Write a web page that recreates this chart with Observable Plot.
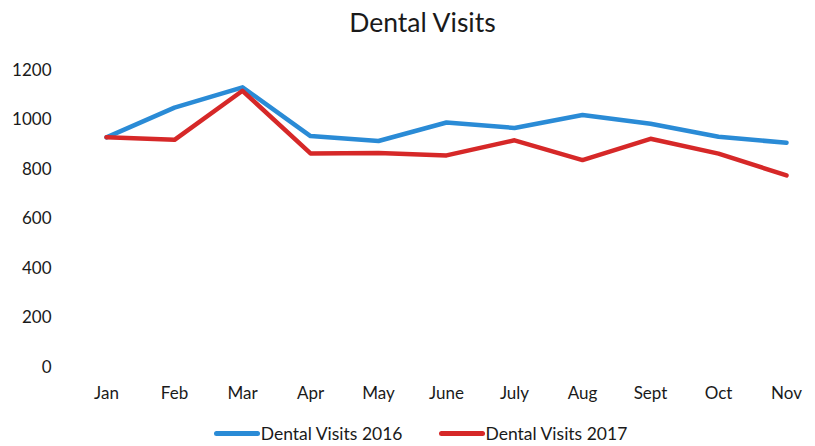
<!DOCTYPE html>
<html>
<head>
<meta charset="utf-8">
<script src="https://cdn.jsdelivr.net/npm/d3@7"></script>
<script src="https://cdn.jsdelivr.net/npm/@observablehq/plot@0.6"></script>
<style>
  body { margin: 0; background: #fff; font-family: Lato, "Open Sans", sans-serif; }
  #title { height: 45px; line-height: 44px; text-align: center; font-size: 26.5px; color: #1a1a1a; padding-left: 30px; }
  #legend { display: flex; justify-content: center; align-items: center; gap: 36px; font-size: 17.5px; color: #1a1a1a; margin-top: 8px; padding-left: 26px; }
  .item { display: flex; align-items: center; }
  .sw { width: 46px; height: 5px; border-radius: 3px; margin-right: 1px; }
</style>
</head>
<body>
<div id="title">Dental Visits</div>
<div id="chart"></div>
<div id="legend"></div>
<script>
const months = ["Jan", "Feb", "Mar", "Apr", "May", "June", "July", "Aug", "Sept", "Oct", "Nov"];
const visits2016 = [930, 1050, 1132, 935, 915, 990, 968, 1020, 985, 932, 908];
const visits2017 = [930, 920, 1118, 865, 867, 857, 918, 838, 924, 864, 776];
const seriesNames = ["Dental Visits 2016", "Dental Visits 2017"];
const seriesColors = ["#2a8bd6", "#d62828"];
const yTicks = [0, 200, 400, 600, 800, 1000, 1200];

const data = [];
months.forEach((m, i) => {
  data.push({ month: m, value: visits2016[i], series: seriesNames[0] });
  data.push({ month: m, value: visits2017[i], series: seriesNames[1] });
});

const plot = Plot.plot({
  width: 815,
  height: 370,
  marginTop: 25,
  marginBottom: 48,
  marginLeft: 104,
  marginRight: 28,
  style: { fontFamily: "Lato, 'Open Sans', sans-serif", fontSize: "17px", color: "#1a1a1a" },
  x: { type: "point", domain: months, padding: 0, label: null },
  y: { domain: [0, 1200], label: null },
  color: { domain: seriesNames, range: seriesColors },
  marks: [
    Plot.axisX({ tickSize: 0, tickPadding: 19, fontSize: 17, label: null }),
    Plot.axisY({ ticks: yTicks, tickFormat: d3.format("d"), tickSize: 0, tickPadding: 53, fontSize: 17, label: null }),
    Plot.line(data, { x: "month", y: "value", z: "series", stroke: "series", strokeWidth: 4.5, strokeLinejoin: "round" })
  ]
});
document.getElementById("chart").appendChild(plot);

const legend = document.getElementById("legend");
seriesNames.forEach((n, i) => {
  const it = document.createElement("div");
  it.className = "item";
  const sw = document.createElement("span");
  sw.className = "sw";
  sw.style.background = seriesColors[i];
  const t = document.createElement("span");
  t.textContent = n;
  it.appendChild(sw);
  it.appendChild(t);
  legend.appendChild(it);
});
</script>
</body>
</html>
